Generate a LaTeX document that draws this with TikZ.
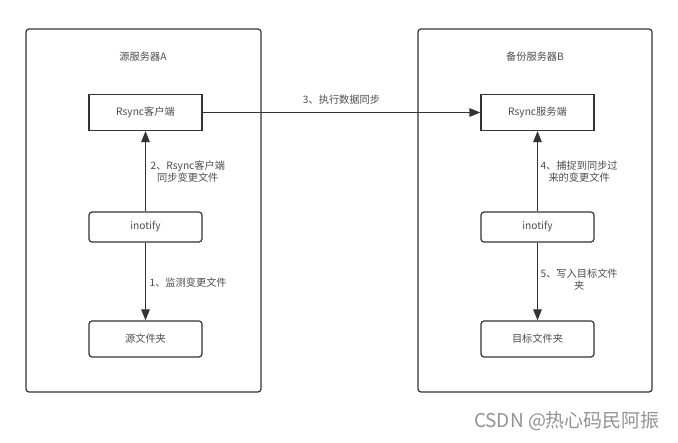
\documentclass[tikz,border=0pt]{standalone}
\usepackage{fontspec}
\usepackage{tikz}
\usetikzlibrary{arrows.meta}
\setmainfont{Noto Sans CJK SC}
\definecolor{linegray}{HTML}{333333}
\definecolor{textgray}{HTML}{4D4D4D}
\tikzset{
  server/.style={draw=linegray,line width=1.2pt,rounded corners=3pt},
  stepbox/.style={draw=linegray,line width=1.2pt,minimum width=113pt,minimum height=36pt,inner sep=0pt,text=textgray,font=\fontsize{10.2}{12}\selectfont},
  softbox/.style={stepbox,rounded corners=3pt,minimum height=30pt},
  lbl/.style={text=textgray,font=\fontsize{10.2}{12}\selectfont,align=center,inner sep=0pt},
  flow/.style={draw=linegray,line width=1.2pt,-{Triangle[length=11pt,width=8.5pt]}}
}
\begin{document}
\begin{tikzpicture}[x=1pt,y=-1pt]
      \useasboundingbox[fill=white] (0,0) rectangle (678,443);

      \draw[server] (26,29) rectangle (261,392);
      \draw[server] (418,29) rectangle (652,392);

      \node[lbl] (srcA) at (143,57){源服务器A};
      \node[lbl] (bakB) at (535,57){备份服务器B};

      \node[stepbox] (cli) at (145.5,112.5){Rsync客户端};
      \node[softbox] (ina) at (145.5,227){inotify};
      \node[softbox,minimum height=36pt] (srcdir) at (145.5,339){源文件夹};

      \node[stepbox] (srv) at (537.5,112.5){Rsync服务端};
      \node[softbox] (inb) at (537.5,227){inotify};
      \node[softbox,minimum height=36pt] (dstdir) at (537.5,339){目标文件夹};

      \draw[flow] (ina) -- (srcdir) node[lbl,pos=0.52,anchor=west,xshift=3.5pt]{1、监测变更文件};
      \draw[flow] (ina) -- (cli) node[lbl,pos=0.49,anchor=west,xshift=4.5pt]{2、Rsync客户端\\同步变更文件};
      \draw[flow] (cli) -- (srv) node[lbl,midway,above=8pt]{3、执行数据同步};
      \draw[flow] (inb) -- (srv) node[lbl,pos=0.49,anchor=west,xshift=2.5pt]{4、捕捉到同步过\\来的变更文件};
      \draw[flow] (inb) -- (dstdir) node[lbl,pos=0.47,anchor=west,xshift=2.5pt]{5、写入目标文件\\夹};

      \node[text=gray!85,font=\fontsize{19}{21}\selectfont,inner sep=0pt] (mark) at (567,421){CSDN @热心码民阿振};
\end{tikzpicture}
\end{document}
